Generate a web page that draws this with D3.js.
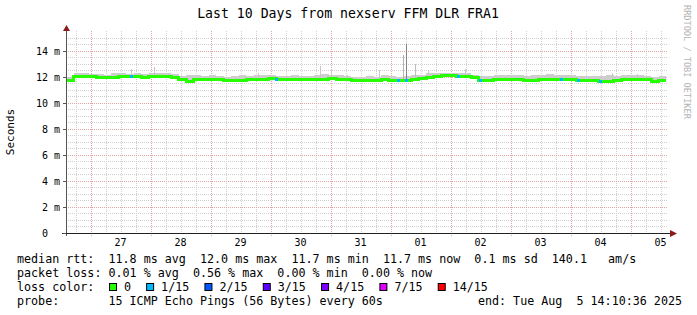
<!DOCTYPE html>
<html>
<head>
<meta charset="utf-8">
<script src="https://cdn.jsdelivr.net/npm/d3@7/dist/d3.min.js"></script>
<style>
  html, body { margin: 0; padding: 0; background: #fff; }
  svg text { white-space: pre; }
</style>
</head>
<body>
<svg id="chart" width="697" height="315"></svg>
<script>
// sample times: every 3h from the graph start
const START = Date.UTC(2025, 6, 26, 14, 10, 36);
const END   = Date.UTC(2025, 7, 5, 14, 10, 36);
const STEP_H = 3;

// median rtt (ms), one value per 3h slot
const medianRtt = [
  11.70, 12.00, 12.02, 12.00, 11.95, 11.90, 11.97, 12.00, 12.00, 11.98,
  11.95, 12.00, 12.02, 12.00, 11.95, 11.75, 11.65, 11.80, 11.78, 11.75,
  11.75, 11.72, 11.70, 11.73, 11.75, 11.78, 11.78, 11.85, 11.75, 11.75,
  11.78, 11.78, 11.80, 11.78, 11.80, 11.82, 11.80, 11.78, 11.72, 11.70,
  11.70, 11.72, 11.75, 11.72, 11.70, 11.72, 11.75, 11.85, 11.92, 12.02,
  12.05, 12.05, 12.02, 12.00, 11.95, 11.72, 11.72, 11.75, 11.75, 11.78,
  11.75, 11.74, 11.74, 11.75, 11.78, 11.80, 11.78, 11.76, 11.74, 11.70,
  11.70, 11.66, 11.66, 11.72, 11.78, 11.78, 11.78, 11.75, 11.65, 11.68
];
// smoke (ping spread) upper / lower edge, ms
const smokeHigh = [
  11.95, 12.25, 12.30, 12.22, 12.20, 12.15, 12.25, 12.28, 12.22, 12.30,
  12.20, 12.25, 12.30, 12.28, 12.20, 12.05, 12.10, 12.15, 12.05, 12.10,
  12.08, 12.00, 12.05, 12.10, 12.08, 12.15, 12.10, 12.12, 12.05, 12.02,
  12.10, 12.05, 12.08, 12.12, 12.20, 12.10, 12.15, 12.05, 12.00, 11.98,
  12.02, 12.00, 12.10, 12.05, 12.00, 12.05, 12.10, 12.15, 12.25, 12.30,
  12.28, 12.30, 12.25, 12.28, 12.15, 12.02, 12.05, 12.10, 12.12, 12.15,
  12.10, 12.08, 12.12, 12.15, 12.18, 12.12, 12.10, 12.15, 12.08, 12.05,
  12.02, 12.08, 12.10, 12.05, 12.15, 12.12, 12.10, 12.08, 12.00, 12.02
];
const smokeLow = [
  11.60, 11.90, 11.92, 11.90, 11.85, 11.80, 11.88, 11.90, 11.90, 11.88,
  11.85, 11.90, 11.92, 11.90, 11.85, 11.65, 11.55, 11.70, 11.68, 11.65,
  11.65, 11.62, 11.60, 11.63, 11.65, 11.68, 11.68, 11.75, 11.65, 11.65,
  11.68, 11.68, 11.70, 11.68, 11.70, 11.72, 11.70, 11.68, 11.62, 11.60,
  11.60, 11.62, 11.65, 11.62, 11.60, 11.62, 11.65, 11.75, 11.82, 11.92,
  11.95, 11.95, 11.92, 11.90, 11.85, 11.62, 11.62, 11.65, 11.65, 11.68,
  11.65, 11.64, 11.64, 11.65, 11.68, 11.70, 11.68, 11.66, 11.64, 11.60,
  11.60, 11.56, 11.56, 11.62, 11.68, 11.68, 11.68, 11.65, 11.55, 11.58
];
// single high pings: hours after start, top value (ms), shade
const spikeHours = [25.9, 35.2, 76.8, 101.6, 105.9, 112.4, 125.2, 134.9, 136.0, 139.7, 144.8, 159.6, 218.3, 228.3];
const spikeTops  = [12.55, 12.75, 12.3, 12.8, 12.55, 12.15, 12.5, 13.65, 14.5, 13.0, 12.5, 12.55, 12.3, 12.2];
const spikeShade = ['#c8c8c8', '#c8c8c8', '#c8c8c8', '#c8c8c8', '#c8c8c8', '#c8c8c8', '#c8c8c8', '#b4b4b4', '#858585', '#bebebe', '#c8c8c8', '#c8c8c8', '#c8c8c8', '#c8c8c8'];
// packet loss events: hours after start, lost pings of 15
const lossHours = [26.0, 84.3, 132.8, 136.0, 156.8, 165.6, 198.3, 204.8, 213.6];
const lossCount = [1, 1, 1, 1, 1, 1, 1, 1, 1];

const lossLabels = ['0', '1/15', '2/15', '3/15', '4/15', '7/15', '14/15'];
const lossSteps  = [0, 1, 2, 3, 4, 7, 14];
const lossColors = ['#26ff00', '#00b8ff', '#0059ff', '#5e00ff', '#7e00ff', '#dd00ff', '#ff0000'];

const yTicks = [0, 2, 4, 6, 8, 10, 12, 14];

const MONO = '"DejaVu Sans Mono", monospace';
const HOUR = 3600 * 1000;

const svg = d3.select('#chart');
const L = 66, R = 666, TOP = 31, BOT = 233;

const x = d3.scaleUtc().domain([new Date(START), new Date(END)]).range([L, R]);
const y = d3.scaleLinear().domain([0, 15.5]).range([BOT, TOP]);

svg.append('rect').attr('width', 697).attr('height', 315).attr('fill', '#fff');

// grid
const minorX = d3.utcHour.every(6).range(new Date(START), new Date(END));
const majorX = d3.utcDay.range(new Date(START), new Date(END));
const grid = svg.append('g').attr('shape-rendering', 'crispEdges');

grid.selectAll('.vmin').data(minorX).join('line')
  .attr('x1', d => Math.round(x(d)) + 0.5).attr('x2', d => Math.round(x(d)) + 0.5)
  .attr('y1', TOP).attr('y2', BOT + 2)
  .attr('stroke', '#cfcfcf').attr('stroke-dasharray', '1,1');

const minorY = d3.range(0.5, 15.5, 0.5).filter(v => v % 2 !== 0);
grid.selectAll('.hmin').data(minorY).join('line')
  .attr('x1', L).attr('x2', R + 2)
  .attr('y1', d => Math.round(y(d)) + 0.5).attr('y2', d => Math.round(y(d)) + 0.5)
  .attr('stroke', '#cfcfcf').attr('stroke-dasharray', '1,1');

grid.selectAll('.vmaj').data(majorX).join('line')
  .attr('x1', d => Math.round(x(d)) + 0.5).attr('x2', d => Math.round(x(d)) + 0.5)
  .attr('y1', TOP).attr('y2', BOT + 3)
  .attr('stroke', '#e2a5a5').attr('stroke-dasharray', '1,1');

grid.selectAll('.hmaj').data(yTicks.filter(v => v > 0)).join('line')
  .attr('x1', L).attr('x2', R + 2)
  .attr('y1', d => Math.round(y(d)) + 0.5).attr('y2', d => Math.round(y(d)) + 0.5)
  .attr('stroke', '#e2a5a5').attr('stroke-dasharray', '1,1');

// smoke
const slots = medianRtt.map((v, i) => ({
  t: new Date(START + i * STEP_H * HOUR), med: v, hi: smokeHigh[i], lo: smokeLow[i]
}));
const slotsEnd = slots.concat([{ t: new Date(END), med: medianRtt[medianRtt.length - 1],
  hi: smokeHigh[smokeHigh.length - 1], lo: smokeLow[smokeLow.length - 1] }]);

svg.append('path').datum(slotsEnd)
  .attr('d', d3.area().curve(d3.curveStepAfter)
    .x(d => x(d.t)).y0(d => y(d.lo)).y1(d => y(d.hi)))
  .attr('fill', '#cdcdcd').attr('shape-rendering', 'crispEdges');

svg.append('g').attr('shape-rendering', 'crispEdges').selectAll('line').data(spikeHours).join('line')
  .attr('x1', (d) => Math.round(x(new Date(START + d * HOUR))) + 0.5)
  .attr('x2', (d) => Math.round(x(new Date(START + d * HOUR))) + 0.5)
  .attr('y1', (d, i) => y(spikeTops[i]))
  .attr('y2', (d) => y(medianRtt[Math.min(79, Math.floor(d / STEP_H))]))
  .attr('stroke', (d, i) => spikeShade[i]).attr('stroke-width', 1);

// median line
svg.append('path').datum(slotsEnd)
  .attr('d', d3.line().curve(d3.curveStepAfter).x(d => x(d.t)).y(d => y(d.med)))
  .attr('fill', 'none').attr('stroke', lossColors[0]).attr('stroke-width', 3)
  .attr('shape-rendering', 'crispEdges');

// loss coloured pieces of the median line
svg.append('g').attr('shape-rendering', 'crispEdges').selectAll('line').data(lossHours).join('line')
  .attr('x1', d => x(new Date(START + (d - 0.6) * HOUR)))
  .attr('x2', d => x(new Date(START + (d + 0.6) * HOUR)))
  .attr('y1', d => y(medianRtt[Math.min(79, Math.floor(d / STEP_H))]))
  .attr('y2', d => y(medianRtt[Math.min(79, Math.floor(d / STEP_H))]))
  .attr('stroke', (d, i) => lossColors[lossSteps.indexOf(lossCount[i])])
  .attr('stroke-width', 3);

// axes
const axisG = svg.append('g').attr('shape-rendering', 'crispEdges');
axisG.append('line').attr('x1', L + 0.5).attr('x2', L + 0.5).attr('y1', 29).attr('y2', BOT + 3)
  .attr('stroke', '#555');
axisG.append('line').attr('x1', L - 4).attr('x2', 672).attr('y1', BOT + 0.5).attr('y2', BOT + 0.5)
  .attr('stroke', '#222');
svg.append('path').attr('d', `M${L - 3},31 L${L + 0.5},25 L${L + 4},31 Z`).attr('fill', '#8b1a1a');
svg.append('path').attr('d', `M670,${BOT - 3} L677,${BOT + 0.5} L670,${BOT + 4} Z`).attr('fill', '#8b1a1a');

axisG.selectAll('.yt').data(yTicks).join('line')
  .attr('x1', L - 3).attr('x2', L)
  .attr('y1', d => Math.round(y(d)) + 0.5).attr('y2', d => Math.round(y(d)) + 0.5)
  .attr('stroke', '#555');

svg.append('g').selectAll('text').data(yTicks).join('text')
  .attr('x', d => d === 0 ? 48 : 60)
  .attr('y', d => y(d) + 4)
  .attr('text-anchor', 'end')
  .attr('font-family', MONO).attr('font-size', '10px').attr('fill', '#000')
  .text(d => d === 0 ? '0' : d + ' m');

const dayLabels = d3.utcHour.every(24).range(new Date(START), new Date(END))
  .map(d => d3.utcHour.offset(d3.utcDay.floor(d), 12))
  .filter(d => d >= START && d <= END);
svg.append('g').selectAll('text').data(dayLabels).join('text')
  .attr('x', d => x(d)).attr('y', 245.5)
  .attr('text-anchor', 'middle')
  .attr('font-family', MONO).attr('font-size', '10px').attr('fill', '#000')
  .text(d => d3.utcFormat('%d')(d));

// title, unit, watermark
svg.append('text').attr('x', 348).attr('y', 18).attr('text-anchor', 'middle')
  .attr('font-family', MONO).attr('font-size', '13.2px').attr('fill', '#000')
  .text('Last 10 Days from nexserv FFM DLR FRA1');

svg.append('text').attr('transform', 'translate(14,132) rotate(-90)').attr('text-anchor', 'middle')
  .attr('font-family', MONO).attr('font-size', '11px').attr('fill', '#000')
  .text('Seconds');

svg.append('text').attr('transform', 'translate(684,5) rotate(90)')
  .attr('font-family', MONO).attr('font-size', '8.6px').attr('fill', '#b4b4b4')
  .text('RRDTOOL / TOBI OETIKER');

// legend
const LF = '11.7px';
const legend = svg.append('g').attr('font-family', MONO).attr('font-size', LF).attr('fill', '#000');
legend.append('text').attr('x', 17).attr('y', 263)
  .text('median rtt:  11.8 ms avg  12.0 ms max  11.7 ms min  11.7 ms now  0.1 ms sd  140.1   am/s');
legend.append('text').attr('x', 17).attr('y', 277)
  .text('packet loss: 0.01 % avg  0.56 % max  0.00 % min  0.00 % now');
legend.append('text').attr('x', 17).attr('y', 291).text('loss color:');
legend.append('text').attr('x', 17).attr('y', 305)
  .text('probe:       15 ICMP Echo Pings (56 Bytes) every 60s');
legend.append('text').attr('x', 682).attr('y', 305).attr('text-anchor', 'end')
  .text('end: Tue Aug  5 14:10:36 2025');

const cw = 7.08;
let lx = 17 + 13 * cw;
lossLabels.forEach((lab, i) => {
  legend.append('rect').attr('x', lx + 0.5).attr('y', 283.5).attr('width', 7).attr('height', 7)
    .attr('fill', lossColors[i]).attr('stroke', '#000').attr('stroke-width', 1);
  legend.append('text').attr('x', lx + 15).attr('y', 291).text(lab);
  lx += 15 + lab.length * cw + 15;
});
</script>
</body>
</html>
